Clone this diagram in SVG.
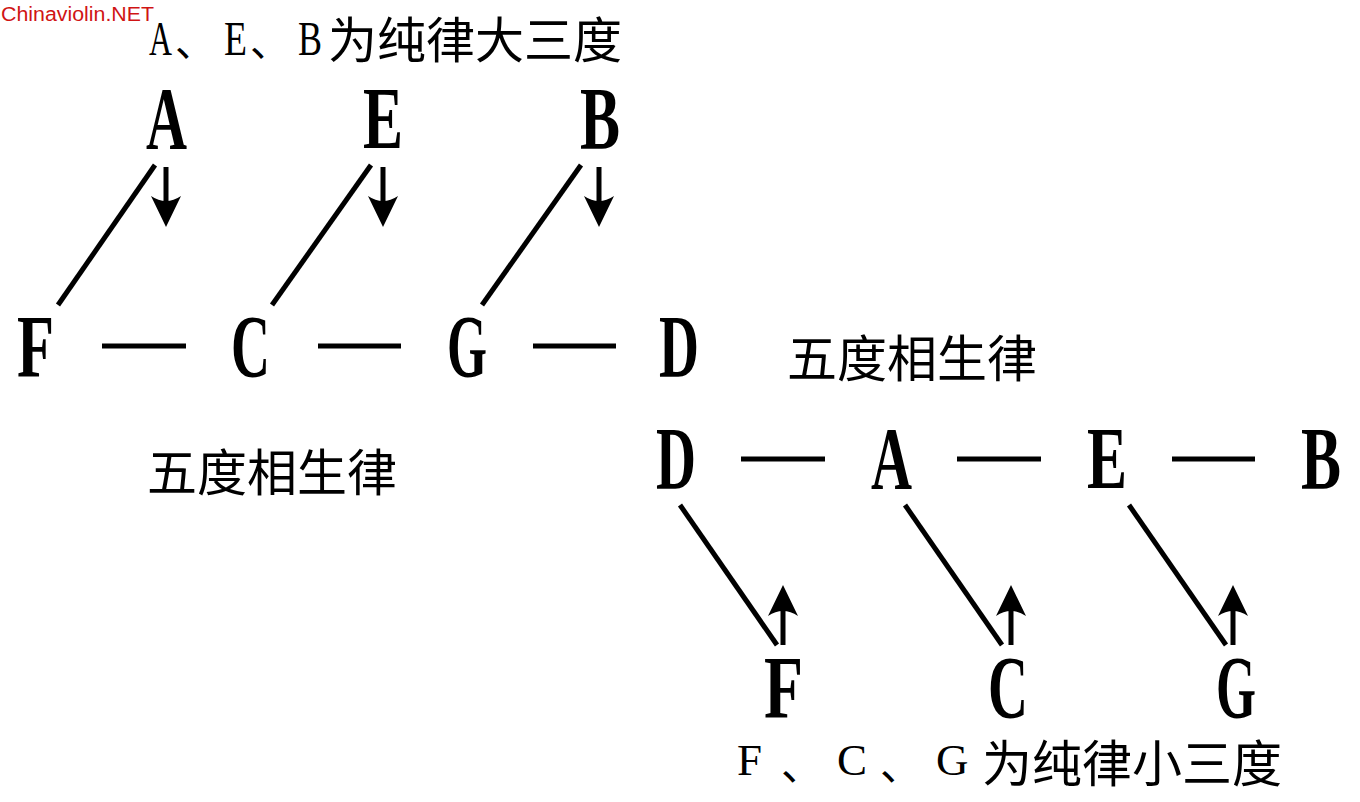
<svg xmlns="http://www.w3.org/2000/svg" width="1360" height="802" viewBox="0 0 1360 802">
<style>
.n{font-family:"Liberation Serif","DejaVu Serif",serif;font-weight:bold;font-size:88px;fill:#000}
.cj{font-family:"Noto Sans CJK SC","Noto Sans",sans-serif;fill:#000}
.lt{font-family:"Liberation Serif","DejaVu Serif",serif;fill:#000}
.ln{stroke:#000;stroke-width:5;fill:none;stroke-linecap:butt}
.wm{font-family:"Liberation Sans","DejaVu Sans",sans-serif;font-size:20px;fill:#d01414}
</style>
<defs>
<marker id="ah" markerUnits="userSpaceOnUse" viewBox="-35 -20 40 40" markerWidth="40" markerHeight="40" refX="-10" refY="0" orient="auto">
<path d="M0,0 L-31,-15 Q-21,0 -31,15 Z" fill="#000"/>
</marker>
</defs>
<rect width="1360" height="802" fill="#fff"/>
<text class="wm" x="1" y="21" textLength="153" lengthAdjust="spacingAndGlyphs">Chinaviolin.NET</text>

<g id="title-major">
<text class="lt" font-size="48" x="149" y="55" textLength="23" lengthAdjust="spacingAndGlyphs">A</text>
<text class="cj" font-size="40" x="175" y="56">、</text>
<text class="lt" font-size="48" x="224" y="55" textLength="23" lengthAdjust="spacingAndGlyphs">E</text>
<text class="cj" font-size="40" x="250" y="56">、</text>
<text class="lt" font-size="48" x="298" y="55" textLength="24" lengthAdjust="spacingAndGlyphs">B</text>
<text class="cj" font-size="49" x="328" y="58">为纯律大三度</text>
</g>

<g id="node-A1"><text class="n" x="146" y="148" textLength="41" lengthAdjust="spacingAndGlyphs">A</text></g>
<g id="node-E1"><text class="n" x="363" y="148" textLength="40" lengthAdjust="spacingAndGlyphs">E</text></g>
<g id="node-B1"><text class="n" x="580" y="148" textLength="40" lengthAdjust="spacingAndGlyphs">B</text></g>

<g id="node-F1"><text class="n" x="17" y="376" textLength="37" lengthAdjust="spacingAndGlyphs">F</text></g>
<g id="node-C1"><text class="n" x="231" y="376" textLength="39" lengthAdjust="spacingAndGlyphs">C</text></g>
<g id="node-G1"><text class="n" x="447" y="376" textLength="40" lengthAdjust="spacingAndGlyphs">G</text></g>
<g id="node-D1"><text class="n" x="659" y="376" textLength="40" lengthAdjust="spacingAndGlyphs">D</text></g>

<g id="label-fifths-left"><text class="cj" font-size="50" x="147" y="491">五度相生律</text></g>
<g id="label-fifths-right"><text class="cj" font-size="50" x="787" y="377">五度相生律</text></g>

<g id="node-D2"><text class="n" x="656" y="488" textLength="40" lengthAdjust="spacingAndGlyphs">D</text></g>
<g id="node-A2"><text class="n" x="871" y="488" textLength="41" lengthAdjust="spacingAndGlyphs">A</text></g>
<g id="node-E2"><text class="n" x="1087" y="488" textLength="40" lengthAdjust="spacingAndGlyphs">E</text></g>
<g id="node-B2"><text class="n" x="1301" y="488" textLength="40" lengthAdjust="spacingAndGlyphs">B</text></g>

<g id="node-F2"><text class="n" x="764" y="717" textLength="39" lengthAdjust="spacingAndGlyphs">F</text></g>
<g id="node-C2"><text class="n" x="988" y="717" textLength="40" lengthAdjust="spacingAndGlyphs">C</text></g>
<g id="node-G2"><text class="n" x="1216" y="717" textLength="40" lengthAdjust="spacingAndGlyphs">G</text></g>

<g id="title-minor">
<text class="lt" font-size="45" x="737" y="775">F</text>
<text class="cj" font-size="42" x="781" y="780">、</text>
<text class="lt" font-size="45" x="837" y="775">C</text>
<text class="cj" font-size="42" x="880" y="780">、</text>
<text class="lt" font-size="45" x="936" y="775">G</text>
<text class="cj" font-size="50" x="982" y="782">为纯律小三度</text>
</g>

<g id="connectors">
<line class="ln" x1="155" y1="165" x2="58" y2="305"/>
<line class="ln" x1="371" y1="165" x2="272" y2="305"/>
<line class="ln" x1="581" y1="165" x2="482" y2="305"/>
<line class="ln" x1="166" y1="167" x2="166" y2="217" marker-end="url(#ah)"/>
<line class="ln" x1="383" y1="167" x2="383" y2="217" marker-end="url(#ah)"/>
<line class="ln" x1="599" y1="167" x2="599" y2="217" marker-end="url(#ah)"/>
<line class="ln" x1="102" y1="346" x2="186" y2="346"/>
<line class="ln" x1="318" y1="346" x2="401" y2="346"/>
<line class="ln" x1="533" y1="346" x2="616" y2="346"/>
<line class="ln" x1="741" y1="459" x2="825" y2="459"/>
<line class="ln" x1="957" y1="459" x2="1041" y2="459"/>
<line class="ln" x1="1172" y1="459" x2="1255" y2="459"/>
<line class="ln" x1="680" y1="505" x2="777" y2="645"/>
<line class="ln" x1="905" y1="505" x2="1002" y2="645"/>
<line class="ln" x1="1129" y1="505" x2="1226" y2="645"/>
<line class="ln" x1="783" y1="645" x2="783" y2="595" marker-end="url(#ah)"/>
<line class="ln" x1="1011" y1="645" x2="1011" y2="595" marker-end="url(#ah)"/>
<line class="ln" x1="1233" y1="645" x2="1233" y2="595" marker-end="url(#ah)"/>
</g>
</svg>
